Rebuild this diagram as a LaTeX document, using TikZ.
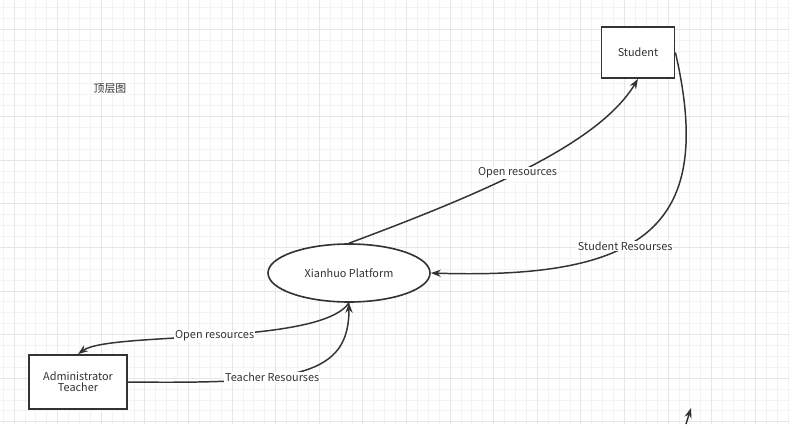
\documentclass[tikz,border=0pt]{standalone}
\usepackage{fontspec}
\setmainfont{Noto Sans CJK SC}
\usepackage{xcolor}
\usetikzlibrary{shapes.geometric, arrows.meta}
\definecolor{ink}{HTML}{333333}
\definecolor{gridmin}{HTML}{F3F3F3}
\definecolor{gridmaj}{HTML}{E6E6E6}
\tikzset{
    entity/.style={rectangle, minimum width=3.65cm, minimum height=2.55cm, text centered, draw=ink, line width=2.6pt, fill=white, text=ink},
    process/.style={ellipse, minimum width=8.1cm, minimum height=2.9cm, text centered, draw=ink, line width=2.3pt, fill=white, text=ink},
    flow/.style={line width=2.1pt, draw=ink, -{Stealth[length=0.5cm, width=0.36cm]}},
    flowlabel/.style={fill=white, inner sep=1pt, text=ink}
}

\begin{document}
\begin{tikzpicture}[x=0.05cm, y=-0.05cm, font=\fontsize{15.5}{15.5}\selectfont]
    \useasboundingbox (0,0) rectangle (790,424);
    \fill[white] (0,0) rectangle (790,424);
    % grid
    \foreach \i in {0,...,72} \draw[gridmin, line width=1.1pt] ({3.1+10.9*\i},0) -- ({3.1+10.9*\i},424);
    \foreach \i in {0,...,38} \draw[gridmin, line width=1.1pt] (0,{7.5+10.9*\i}) -- (790,{7.5+10.9*\i});
    \foreach \i in {0,...,17} \draw[gridmaj, line width=1.1pt] ({14+43.6*\i},0) -- ({14+43.6*\i},424);
    \foreach \i in {0,...,9} \draw[gridmaj, line width=1.1pt] (0,{29.3+43.6*\i}) -- (790,{29.3+43.6*\i});

    \node (title) [text=ink] at (110,89) {顶层图};

    \node (plat) [process] at (349,273) {Xianhuo Platform};
    \node (stu) [entity] at (638,52.5) {Student};
    \node (admin) [entity, minimum width=4.9cm, minimum height=2.7cm, align=center] at (78,382) {Administrator\\Teacher};

    \draw [flow] (plat.north) .. controls (492,190) and (600,142) .. node[flowlabel, pos=0.45] {Open resources} (stu.south);
    \draw [flow] (stu.east) .. controls (715,224) and (648,280) .. node[flowlabel, pos=0.59] {Student Resourses} (plat.east);
    \draw [flow] (plat.south) .. controls (320,346) and (110,331) .. node[flowlabel, pos=0.5] {Open resources} (admin.north);
    \draw [flow] (admin.east) .. controls (300,384) and (349,375) .. node[flowlabel, pos=0.37] {Teacher Resourses} (plat.south);

    \coordinate (stubA) at (686,424);
    \coordinate (stubB) at (691,408);
    \draw [flow] (stubA) -- (stubB);
\end{tikzpicture}
\end{document}
